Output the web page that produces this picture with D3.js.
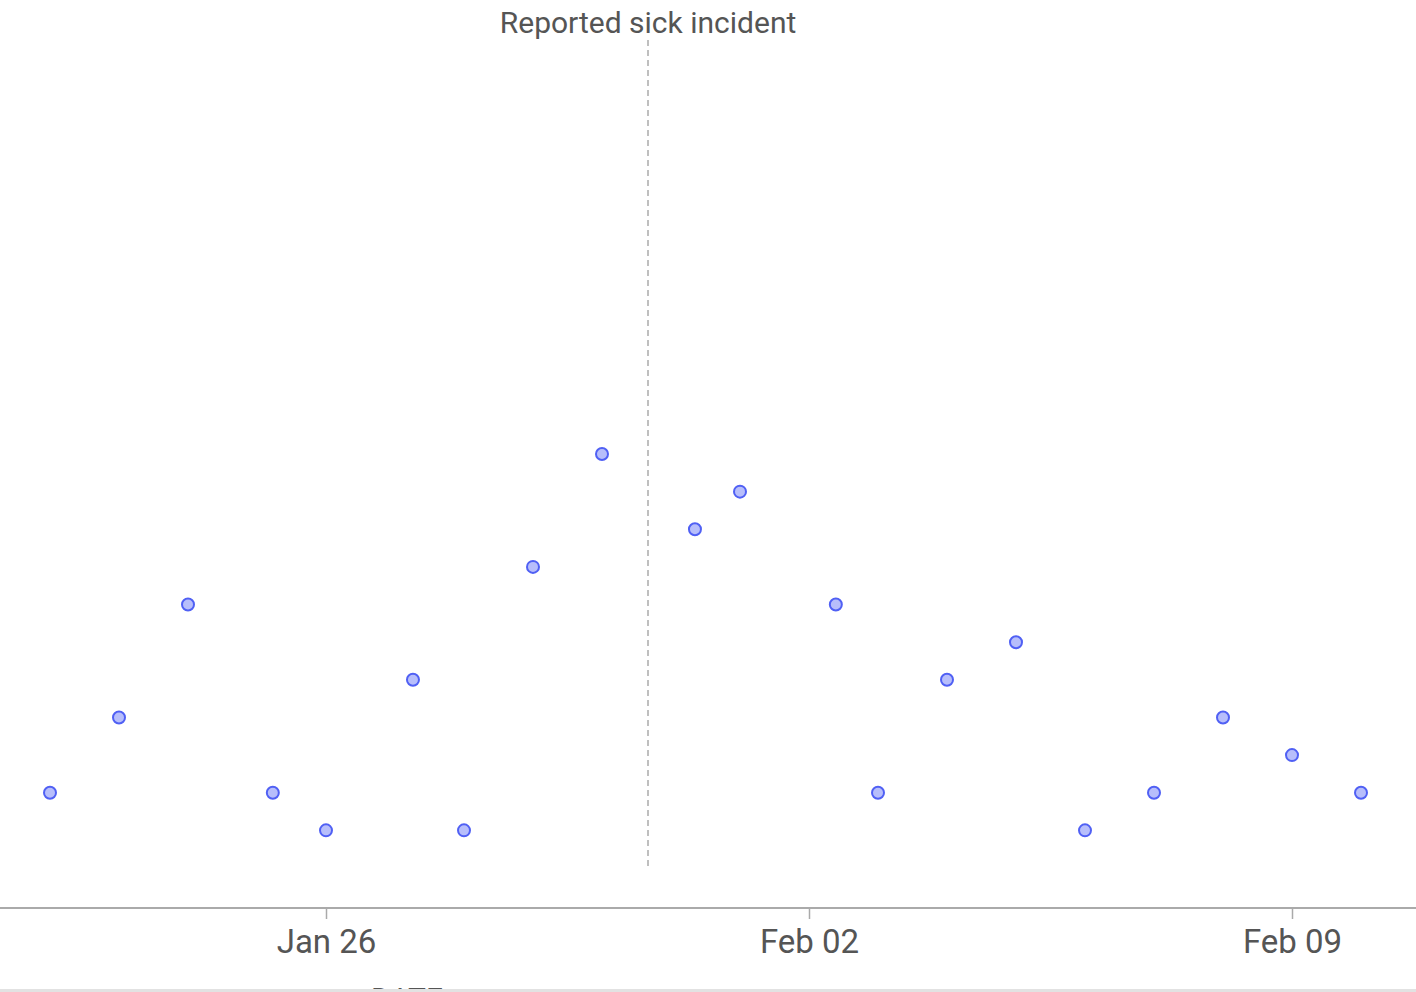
<!DOCTYPE html>
<html>
<head>
<meta charset="utf-8">
<script src="https://cdn.jsdelivr.net/npm/d3@7"></script>
<style>
  html, body { margin: 0; padding: 0; background: #fff; overflow: hidden; }
  svg { display: block; font-family: Roboto, "Noto Sans", sans-serif; }
</style>
</head>
<body>
<svg id="chart"></svg>
<script>
// Constants
const width = 1416;
const height = 992;

// Data: date (UTC) and count of reports
const dates = [
  "2020-01-22T00:00", "2020-01-23T00:00", "2020-01-24T00:00", "2020-01-25T05:30",
  "2020-01-26T00:00", "2020-01-27T06:15", "2020-01-28T00:00", "2020-01-29T00:00",
  "2020-01-30T00:00", "2020-01-31T08:20", "2020-02-01T00:00", "2020-02-02T09:20",
  "2020-02-03T00:00", "2020-02-04T00:00", "2020-02-05T00:00", "2020-02-06T00:00",
  "2020-02-07T00:00", "2020-02-08T00:00", "2020-02-09T00:00", "2020-02-10T00:00"
];
const counts = [3, 5, 8, 3, 2, 6, 2, 9, 12, 10, 11, 8, 3, 6, 7, 2, 3, 5, 4, 3];

const eventDate = "2020-01-30T16:00";
const eventLabel = "Reported sick incident";

const tickDates = ["2020-01-26T00:00", "2020-02-02T00:00", "2020-02-09T00:00"];
const axisTitle = "DATE";

const parse = d3.utcParse("%Y-%m-%dT%H:%M");

const svg = d3.select("#chart")
  .attr("width", width)
  .attr("height", height);

// Scales
const x = d3.scaleUtc()
  .domain([parse(tickDates[0]), parse(tickDates[2])])
  .range([326, 1292]);

const y = d3.scaleLinear()
  .domain([1, 23])
  .range([868, 40]);

const axisY = 908;

// Event rule
svg.append("line")
  .attr("x1", x(parse(eventDate)))
  .attr("x2", x(parse(eventDate)))
  .attr("y1", y.range()[1])
  .attr("y2", y.range()[0])
  .attr("stroke", "#aaa")
  .attr("stroke-width", 1.5)
  .attr("stroke-dasharray", "6,4");

svg.append("text")
  .attr("x", x(parse(eventDate)))
  .attr("y", 33)
  .attr("text-anchor", "middle")
  .attr("font-size", 30)
  .attr("fill", "#555")
  .text(eventLabel);

// Points
svg.append("g")
  .selectAll("circle")
  .data(dates.map((d, i) => ({ date: parse(d), value: counts[i] })))
  .enter().append("circle")
  .attr("cx", d => x(d.date))
  .attr("cy", d => y(d.value))
  .attr("r", 6)
  .attr("fill", "#b7befb")
  .attr("stroke", "#5060f4")
  .attr("stroke-width", 2);

// X axis
svg.append("line")
  .attr("x1", 0)
  .attr("x2", width)
  .attr("y1", axisY)
  .attr("y2", axisY)
  .attr("stroke", "#aaa")
  .attr("stroke-width", 2);

const xAxis = d3.axisBottom(x)
  .tickValues(tickDates.map(parse))
  .tickFormat(d3.utcFormat("%b %d"))
  .tickSize(11)
  .tickPadding(11);

const gx = svg.append("g")
  .attr("transform", `translate(0,${axisY})`)
  .call(xAxis);

gx.select(".domain").remove();
gx.selectAll(".tick line").attr("stroke", "#aaa").attr("stroke-width", 1.5);
gx.selectAll(".tick text")
  .attr("font-family", "Roboto, 'Noto Sans', sans-serif")
  .attr("font-size", 33)
  .attr("fill", "#555");

// Axis title (cut off by the frame, as in the reference)
svg.append("text")
  .attr("x", 407)
  .attr("y", 1009)
  .attr("text-anchor", "middle")
  .attr("font-size", 30)
  .attr("fill", "#555")
  .text(axisTitle);

// Bottom grey strip
svg.append("rect")
  .attr("x", 0)
  .attr("y", 989)
  .attr("width", width)
  .attr("height", 3)
  .attr("fill", "#e2e2e2");
</script>
</body>
</html>
